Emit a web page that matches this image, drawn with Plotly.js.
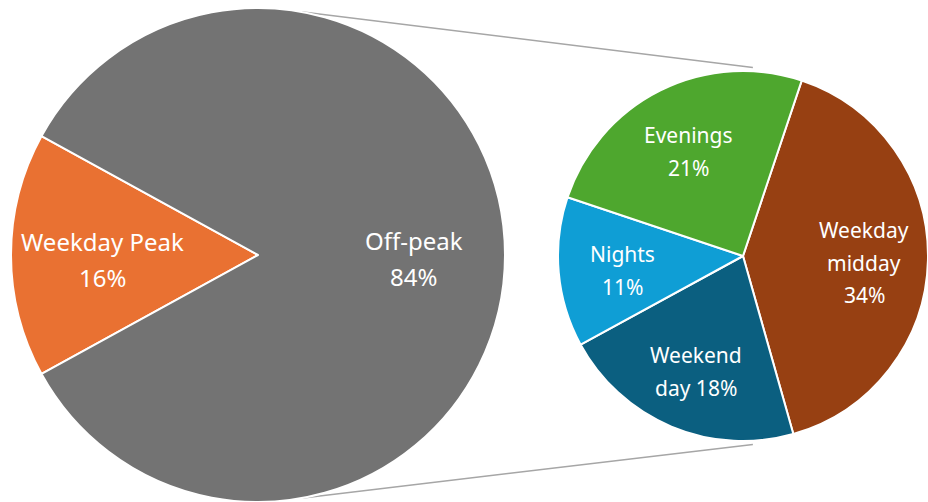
<!DOCTYPE html>
<html>
<head>
<meta charset="utf-8">
<script src="https://cdn.plot.ly/plotly-3.0.1.min.js"></script>
<style>
  html, body { margin: 0; padding: 0; background: #ffffff; }
  #chart { width: 928px; height: 502px; }
</style>
</head>
<body>
<div id="chart"></div>
<script>
// ---- Data ----
const mainLabels = ['Weekday Peak', 'Off-peak'];
const mainValues = [16, 84];
const mainText = ['Weekday Peak\n16%', 'Off-peak\n84%'];

const subLabels = ['Weekday midday', 'Weekend day', 'Nights', 'Evenings'];
const subValues = [34, 18, 11, 21];
const subText = ['Weekday\nmidday\n34%', 'Weekend\nday 18%', 'Nights\n11%', 'Evenings\n21%'];

const mainColors = ['#E97132', '#737373'];
const subColors = ['#974012', '#0B5F80', '#0F9ED5', '#4EA72E'];

// ---- Geometry (pixels) ----
const W = 928, H = 502;
const big = { cx: 258, cy: 255, r: 247, rotation: null, fontSize: 24, lineH: 36, textR: 0.63 };
const small = { cx: 743, cy: 256, r: 185, rotation: 18.5, fontSize: 21, lineH: 32.5, textR: 0.655 };
const textDrop = 4; // px, labels sit slightly below the geometric anchor

// Main pie: first slice centred pointing left (270deg clockwise from top)
const mainTotal = mainValues.reduce((a, b) => a + b, 0);
big.rotation = 270 - (mainValues[0] / mainTotal) * 360 / 2;

function domainOf(g) {
  return {
    x: [(g.cx - g.r) / W, (g.cx + g.r) / W],
    y: [1 - (g.cy + g.r) / H, 1 - (g.cy - g.r) / H]
  };
}
function pt(g, angDeg, frac) {
  const a = angDeg * Math.PI / 180;
  return [g.cx + frac * g.r * Math.sin(a), g.cy - frac * g.r * Math.cos(a)];
}
function bisectors(values, rotation) {
  const tot = values.reduce((a, b) => a + b, 0);
  let cur = rotation;
  return values.map(v => {
    const span = v / tot * 360;
    const mid = cur + span / 2;
    cur += span;
    return mid;
  });
}

function labelAnnotations(g, values, texts) {
  const mids = bisectors(values, g.rotation);
  const anns = [];
  mids.forEach((m, i) => {
    const [px, py] = pt(g, m, g.textR);
    const lines = texts[i].split('\n');
    const n = lines.length;
    lines.forEach((ln, j) => {
      const off = (j - (n - 1) / 2) * g.lineH + textDrop;
      anns.push({
        xref: 'paper', yref: 'paper',
        x: px / W, y: 1 - py / H,
        xanchor: 'center', yanchor: 'middle',
        yshift: -off,
        text: ln, showarrow: false,
        font: { family: 'Noto Sans, sans-serif', size: g.fontSize, color: '#ffffff' }
      });
    });
  });
  return anns;
}

const traces = [
  {
    type: 'pie', labels: mainLabels, values: mainValues,
    sort: false, direction: 'clockwise', rotation: big.rotation,
    marker: { colors: mainColors, line: { color: '#ffffff', width: 2 } },
    textinfo: 'none', hoverinfo: 'label+percent',
    domain: domainOf(big), showlegend: false
  },
  {
    type: 'pie', labels: subLabels, values: subValues,
    sort: false, direction: 'clockwise', rotation: small.rotation,
    marker: { colors: subColors, line: { color: '#ffffff', width: 2 } },
    textinfo: 'none', hoverinfo: 'label+value',
    domain: domainOf(small), showlegend: false
  }
];

// Connector lines between the main pie and the secondary pie
const connectors = [
  { bigAng: 10, smallAng: 3 },
  { bigAng: 170, smallAng: 177 }
];
const shapes = connectors.map(c => {
  const a = pt(big, c.bigAng, 1.0);
  const b = pt(small, c.smallAng, 1.02);
  return {
    type: 'line', xref: 'paper', yref: 'paper', layer: 'below',
    x0: a[0] / W, y0: 1 - a[1] / H, x1: b[0] / W, y1: 1 - b[1] / H,
    line: { color: '#A6A6A6', width: 1.5 }
  };
});

const layout = {
  width: W, height: H,
  margin: { l: 0, r: 0, t: 0, b: 0 },
  paper_bgcolor: '#ffffff', plot_bgcolor: '#ffffff',
  showlegend: false,
  shapes: shapes,
  annotations: labelAnnotations(big, mainValues, mainText)
    .concat(labelAnnotations(small, subValues, subText))
};

Plotly.newPlot('chart', traces, layout, { displayModeBar: false, staticPlot: true });
</script>
</body>
</html>
